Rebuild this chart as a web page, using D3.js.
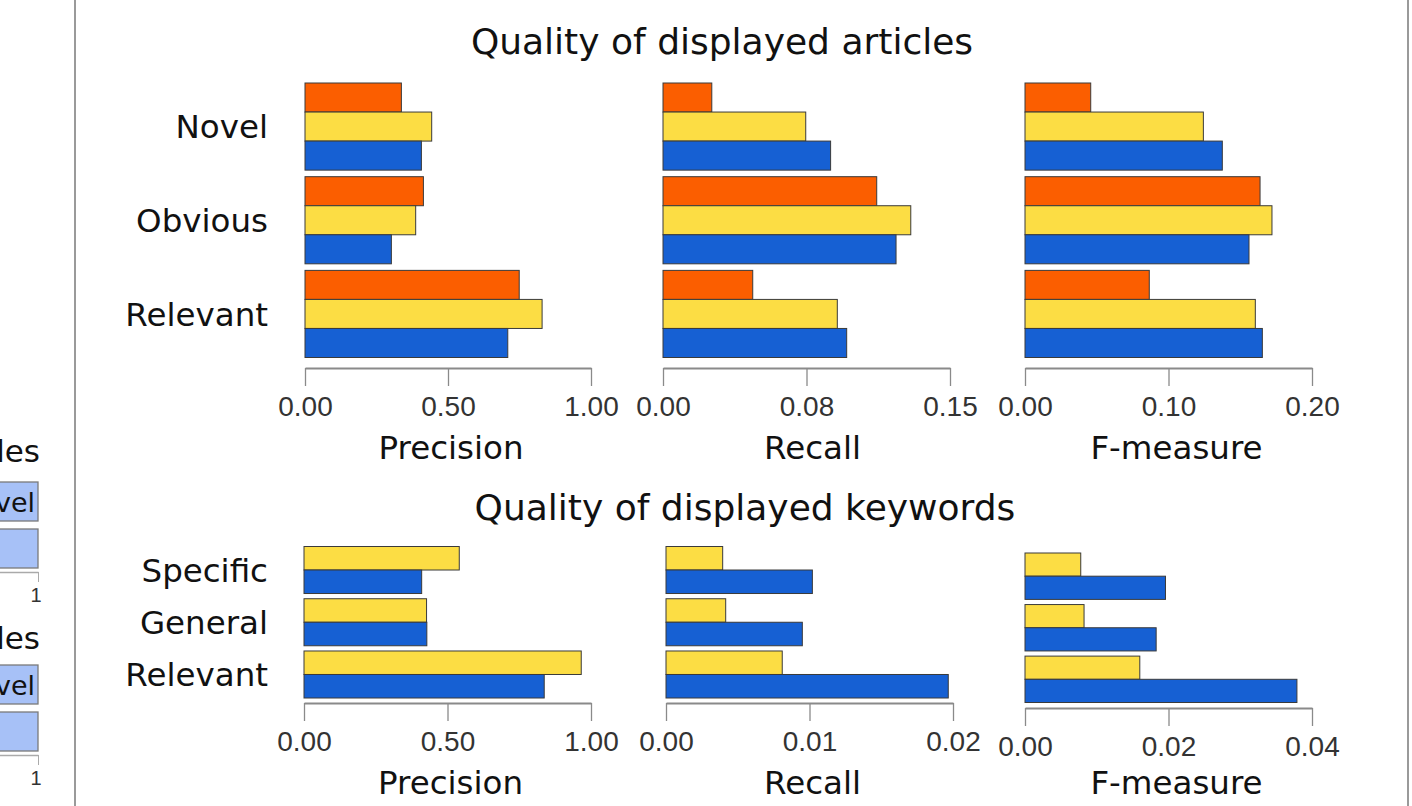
<!DOCTYPE html>
<html>
<head>
<meta charset="utf-8">
<script src="https://cdn.jsdelivr.net/npm/d3@7"></script>
<style>
  html, body { margin: 0; padding: 0; background: #fff; }
  svg { display: block; }
  .lbl { font-family: "DejaVu Sans", sans-serif; fill: #111; }
  .tick text { font-family: "Liberation Sans", Arial, sans-serif; fill: #333; }
</style>
</head>
<body>
<div id="chart"></div>
<script>
// categories
var articleCategories = ['Novel', 'Obvious', 'Relevant'];
var keywordCategories = ['Specific', 'General', 'Relevant'];

// series order inside a group: orange, yellow, blue
var articleColors = ['#fb5e00', '#fcdd44', '#1660d3'];
var keywordColors = ['#fcdd44', '#1660d3'];

// quality of displayed articles
var articlePrecision = [[0.337, 0.414, 0.749], [0.443, 0.387, 0.829], [0.407, 0.302, 0.709]];
var articleRecall    = [[0.0255, 0.1117, 0.0469], [0.0746, 0.1295, 0.0911], [0.0876, 0.1218, 0.0960]];
var articleFmeasure  = [[0.0458, 0.1638, 0.0866], [0.1243, 0.1721, 0.1605], [0.1375, 0.1561, 0.1654]];

// quality of displayed keywords
var keywordPrecision = [[0.541, 0.427, 0.966], [0.410, 0.428, 0.837]];
var keywordRecall    = [[0.00395, 0.00416, 0.0081], [0.0102, 0.0095, 0.01967]];
var keywordFmeasure  = [[0.00777, 0.00823, 0.0160], [0.01958, 0.01828, 0.0379]];

// axis ticks
var precisionTicks = [0, 0.5, 1];
var precisionTickLabels = ['0.00', '0.50', '1.00'];
var articleRecallTicks = [0, 0.075, 0.15];
var articleRecallTickLabels = ['0.00', '0.08', '0.15'];
var articleFTicks = [0, 0.1, 0.2];
var articleFTickLabels = ['0.00', '0.10', '0.20'];
var keywordRecallTicks = [0, 0.01, 0.02];
var keywordRecallTickLabels = ['0.00', '0.01', '0.02'];
var keywordFTicks = [0, 0.02, 0.04];
var keywordFTickLabels = ['0.00', '0.02', '0.04'];

// partial panel cut off on the left
var leftPartialValues = [[1, 1], [1, 1]];

var W = 1412, H = 806;

var svg = d3.select('#chart').append('svg')
    .attr('width', W)
    .attr('height', H);

// frame lines
svg.append('line').attr('x1', 75).attr('x2', 75).attr('y1', 0).attr('y2', H)
    .attr('stroke', '#9a9a9a').attr('stroke-width', 2);
svg.append('line').attr('x1', 1408).attr('x2', 1408).attr('y1', 0).attr('y2', H)
    .attr('stroke', '#9a9a9a').attr('stroke-width', 2);

function drawPanel(opt) {
    var x = d3.scaleLinear().domain(opt.domain).range([opt.x0, opt.x0 + opt.width]);
    var y = d3.scaleBand().domain(opt.categories).range([opt.y0, opt.y1]).paddingInner(opt.pad);
    var ySeries = d3.scaleBand().domain(d3.range(opt.values.length)).range([0, y.bandwidth()]);

    var g = svg.append('g');

    opt.values.forEach(function(series, si) {
        g.selectAll('rect.s' + si)
            .data(series).enter().append('rect')
            .attr('class', 's' + si)
            .attr('x', x(0))
            .attr('y', function(d, i) { return y(opt.categories[i]) + ySeries(si); })
            .attr('width', function(d) { return x(d) - x(0); })
            .attr('height', ySeries.bandwidth())
            .attr('fill', opt.colors[si])
            .attr('stroke', '#3a3a3a')
            .attr('stroke-width', 1);
    });

    var axis = d3.axisBottom(x)
        .tickValues(opt.ticks)
        .tickFormat(function(d, i) { return opt.tickLabels[i]; })
        .tickSize(18)
        .tickSizeOuter(0)
        .tickPadding(10);

    var ax = g.append('g')
        .attr('transform', 'translate(0,' + opt.axisY + ')')
        .call(axis);
    ax.select('.domain').attr('stroke', '#8a8a8a').attr('stroke-width', 2);
    ax.selectAll('.tick line').attr('stroke', '#8a8a8a').attr('stroke-width', 1.3);
    ax.selectAll('.tick text').style('font-size', '28px');

    // axis title sits a little right of the axis centre in the original
    g.append('text').attr('class', 'lbl')
        .attr('x', opt.x0 + opt.width / 2 + (opt.titleShift || 0))
        .attr('y', opt.axisY + (opt.titleGap || 91))
        .attr('text-anchor', 'middle')
        .style('font-size', '32.5px')
        .text(opt.title);

    if (opt.showCategories) {
        g.selectAll('text.cat')
            .data(opt.categories).enter().append('text')
            .attr('class', 'lbl cat')
            .attr('x', 268)
            .attr('y', function(d) { return y(d) + y.bandwidth() / 2; })
            .attr('dy', '0.36em')
            .attr('text-anchor', 'end')
            .style('font-size', '32.5px')
            .text(function(d) { return d; });
    }
}

// top block
svg.append('text').attr('class', 'lbl')
    .attr('x', 722).attr('y', 54)
    .attr('text-anchor', 'middle')
    .style('font-size', '36px')
    .text('Quality of displayed articles');

drawPanel({ categories: articleCategories, values: articlePrecision, colors: articleColors,
    domain: [0, 1], ticks: precisionTicks, tickLabels: precisionTickLabels,
    x0: 305, width: 286, y0: 83, y1: 357.5, pad: 0.07, axisY: 368,
    title: 'Precision', titleShift: 3, showCategories: true });
drawPanel({ categories: articleCategories, values: articleRecall, colors: articleColors,
    domain: [0, 0.15], ticks: articleRecallTicks, tickLabels: articleRecallTickLabels,
    x0: 663, width: 287, y0: 83, y1: 357.5, pad: 0.07, axisY: 368,
    title: 'Recall', titleShift: 6 });
drawPanel({ categories: articleCategories, values: articleFmeasure, colors: articleColors,
    domain: [0, 0.2], ticks: articleFTicks, tickLabels: articleFTickLabels,
    x0: 1025, width: 287, y0: 83, y1: 357.5, pad: 0.07, axisY: 368,
    title: 'F-measure', titleShift: 8 });

// bottom block
svg.append('text').attr('class', 'lbl')
    .attr('x', 745).attr('y', 520)
    .attr('text-anchor', 'middle')
    .style('font-size', '36px')
    .text('Quality of displayed keywords');

drawPanel({ categories: keywordCategories, values: keywordPrecision, colors: keywordColors,
    domain: [0, 1], ticks: precisionTicks, tickLabels: precisionTickLabels,
    x0: 304, width: 287, y0: 546.5, y1: 698, pad: 0.1, axisY: 703,
    title: 'Precision', titleShift: 3, showCategories: true });
drawPanel({ categories: keywordCategories, values: keywordRecall, colors: keywordColors,
    domain: [0, 0.02], ticks: keywordRecallTicks, tickLabels: keywordRecallTickLabels,
    x0: 666, width: 287, y0: 546.5, y1: 698, pad: 0.1, axisY: 703,
    title: 'Recall', titleShift: 3 });
drawPanel({ categories: keywordCategories, values: keywordFmeasure, colors: keywordColors,
    domain: [0, 0.04], ticks: keywordFTicks, tickLabels: keywordFTickLabels,
    x0: 1025, width: 287, y0: 553, y1: 702.5, pad: 0.1, axisY: 708,
    title: 'F-measure', titleShift: 8, titleGap: 86 });

// partial panel on the far left (mostly outside the view)
var xLeft = d3.scaleLinear().domain([0, 1]).range([-240, 38]);
[{ top: 482, axisY: 572, titleY: 462 }, { top: 665, axisY: 755, titleY: 649 }].forEach(function(p, k) {
    var gl = svg.append('g');
    gl.append('text').attr('class', 'lbl')
        .attr('x', 40).attr('y', p.titleY)
        .attr('text-anchor', 'end')
        .style('font-size', '31px')
        .text('articles');
    gl.selectAll('rect')
        .data(leftPartialValues[k]).enter().append('rect')
        .attr('x', xLeft(0))
        .attr('y', function(d, i) { return p.top + i * 47; })
        .attr('width', function(d) { return xLeft(d) - xLeft(0); })
        .attr('height', 39)
        .attr('fill', '#a7c1f7')
        .attr('stroke', '#7a7a7a')
        .attr('stroke-width', 1.3);
    gl.append('text').attr('class', 'lbl')
        .attr('x', 35).attr('y', p.top + 30)
        .attr('text-anchor', 'end')
        .style('font-size', '27px')
        .text('Novel');
    var axl = gl.append('g')
        .attr('transform', 'translate(0,' + p.axisY + ')')
        .call(d3.axisBottom(xLeft).tickValues([1]).tickFormat(d3.format('d')).tickSize(10).tickSizeOuter(0).tickPadding(6));
    axl.select('.domain').attr('stroke', '#aaa').attr('stroke-width', 1.3);
    axl.selectAll('.tick line').attr('stroke', '#aaa');
    axl.selectAll('.tick text').style('font-size', '20px').attr('text-anchor', 'end').attr('x', 3);
});
</script>
</body>
</html>
